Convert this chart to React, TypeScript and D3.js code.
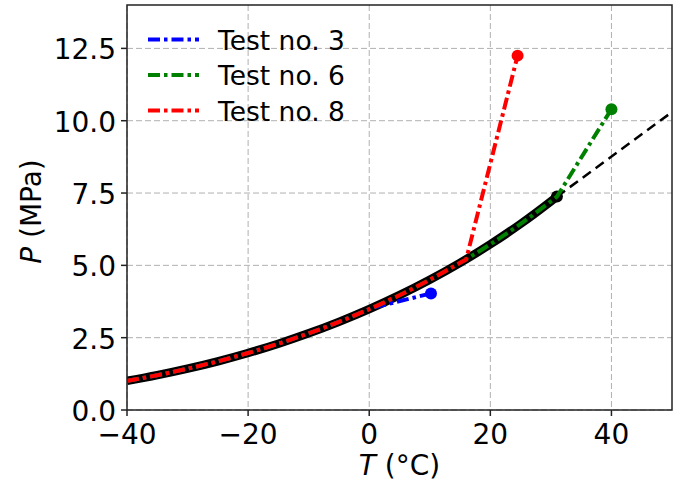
import React from "react";
import * as d3 from "d3";

// Saturation curve (T in °C, P in MPa)
const curveT = [-40, -35, -30, -25, -20, -15, -10, -5, 0, 5, 10, 15, 20, 25, 30, 31];
const curveP = [1.005, 1.203, 1.428, 1.682, 1.97, 2.291, 2.649, 3.046, 3.485, 3.969, 4.502, 5.086, 5.729, 6.434, 7.214, 7.377];

// Dashed extension beyond the critical point
const extT = [31, 50];
const extP = [7.377, 10.3];

// Test paths
const test3T = [-40, -35, -30, -25, -20, -15, -10, -5, 0, 0.5, 10.2];
const test3P = [1.005, 1.203, 1.428, 1.682, 1.97, 2.291, 2.649, 3.046, 3.485, 3.53, 4.03];
const test6T = [-40, -35, -30, -25, -20, -15, -10, -5, 0, 5, 10, 15, 20, 25, 30, 31, 40];
const test6P = [1.005, 1.203, 1.428, 1.682, 1.97, 2.291, 2.649, 3.046, 3.485, 3.969, 4.502, 5.086, 5.729, 6.434, 7.214, 7.377, 10.4];
const test8T = [-40, -35, -30, -25, -20, -15, -10, -5, 0, 5, 10, 15, 16, 24.5];
const test8P = [1.005, 1.203, 1.428, 1.682, 1.97, 2.291, 2.649, 3.046, 3.485, 3.969, 4.502, 5.086, 5.2, 12.25];

const seriesNames = ["Test no. 3", "Test no. 6", "Test no. 8"];
const seriesColors = ["#0000ff", "#008000", "#ff0000"];

const xTicks = [-40, -20, 0, 20, 40];
const yTicks = [0, 2.5, 5, 7.5, 10, 12.5];

const W = 681, H = 487;
const left = 127, right = 672, top = 5, bottom = 410;

export default function App() {
  const x = d3.scaleLinear().domain([-40, 50]).range([left, right]);
  const y = d3.scaleLinear().domain([0, 14]).range([bottom, top]);
  const toPts = (ts: number[], ps: number[]) => ts.map((t, i) => [t, ps[i]] as [number, number]);
  const smooth = d3.line<[number, number]>().x(d => x(d[0])).y(d => y(d[1])).curve(d3.curveMonotoneX);
  const straight = d3.line<[number, number]>().x(d => x(d[0])).y(d => y(d[1]));

  // test paths: smooth along curve, straight last segment
  const testPath = (ts: number[], ps: number[]) => {
    const pts = toPts(ts, ps);
    const body = smooth(pts.slice(0, pts.length - 1)) || "";
    const last = pts[pts.length - 1];
    return body + `L${x(last[0])},${y(last[1])}`;
  };

  const tests = [
    { t: test3T, p: test3P },
    { t: test6T, p: test6P },
    { t: test8T, p: test8P },
  ];
  const dash = "12 4 3.5 4";
  const font = "DejaVu Sans, sans-serif";

  return (
    <svg width={W} height={H} style={{ position: "fixed", left: 0, top: 0, background: "#fff" }} fontFamily={font}>
      <defs>
        <clipPath id="plot">
          <rect x={left} y={top} width={right - left} height={bottom - top} />
        </clipPath>
      </defs>
      <rect x={0} y={0} width={W} height={H} fill="#fff" />
      {/* grid */}
      {xTicks.map(t => (
        <line key={"gx" + t} x1={x(t)} x2={x(t)} y1={top} y2={bottom} stroke="#b0b0b0" strokeWidth={1} strokeDasharray="6 3" />
      ))}
      {yTicks.map(t => (
        <line key={"gy" + t} x1={left} x2={right} y1={y(t)} y2={y(t)} stroke="#b0b0b0" strokeWidth={1} strokeDasharray="6 3" />
      ))}
      <g clipPath="url(#plot)">
        <path d={smooth(toPts(curveT, curveP)) || ""} fill="none" stroke="#000" strokeWidth={8.5} />
        <path d={straight(toPts(extT, extP)) || ""} fill="none" stroke="#000" strokeWidth={2.5} strokeDasharray="10 6" />
        <circle cx={x(curveT[curveT.length - 1])} cy={y(curveP[curveP.length - 1])} r={6} fill="#000" />
        {tests.map((s, i) => (
          <path key={"t" + i} d={testPath(s.t, s.p)} fill="none" stroke={seriesColors[i]} strokeWidth={4} strokeDasharray={dash} />
        ))}
      </g>
      {tests.map((s, i) => (
        <circle key={"d" + i} cx={x(s.t[s.t.length - 1])} cy={y(s.p[s.p.length - 1])} r={6} fill={seriesColors[i]} />
      ))}
      {/* frame */}
      <rect x={left} y={top} width={right - left} height={bottom - top} fill="none" stroke="#222" strokeWidth={1.5} />
      {/* x ticks */}
      {xTicks.map(t => (
        <g key={"xt" + t}>
          <line x1={x(t)} x2={x(t)} y1={bottom} y2={bottom + 6} stroke="#222" strokeWidth={1.5} />
          <text x={x(t)} y={bottom + 34} textAnchor="middle" fontSize={28} fill="#000">
            {t < 0 ? "\u2212" + Math.abs(t) : String(t)}
          </text>
        </g>
      ))}
      {/* y ticks */}
      {yTicks.map(t => (
        <g key={"yt" + t}>
          <line x1={left - 6} x2={left} y1={y(t)} y2={y(t)} stroke="#222" strokeWidth={1.5} />
          <text x={left - 11} y={y(t) + 11} textAnchor="end" fontSize={28} fill="#000">
            {t.toFixed(1)}
          </text>
        </g>
      ))}
      {/* axis labels */}
      <text x={(left + right) / 2} y={475} textAnchor="middle" fontSize={28} fill="#000">
        <tspan fontStyle="italic">T</tspan> (°C)
      </text>
      <text transform={`translate(41,${(top + bottom) / 2 + 4}) rotate(-90)`} textAnchor="middle" fontSize={28} fill="#000">
        <tspan fontStyle="italic">P</tspan> (MPa)
      </text>
      {/* legend */}
      {seriesNames.map((n, i) => (
        <g key={"lg" + i} transform={`translate(0,${39.5 + i * 35.5})`}>
          <line x1={148} x2={199} y1={0} y2={0} stroke={seriesColors[i]} strokeWidth={4} strokeDasharray={dash} />
          <text x={218} y={10} fontSize={26.5} fill="#000">{n}</text>
        </g>
      ))}
    </svg>
  );
}
